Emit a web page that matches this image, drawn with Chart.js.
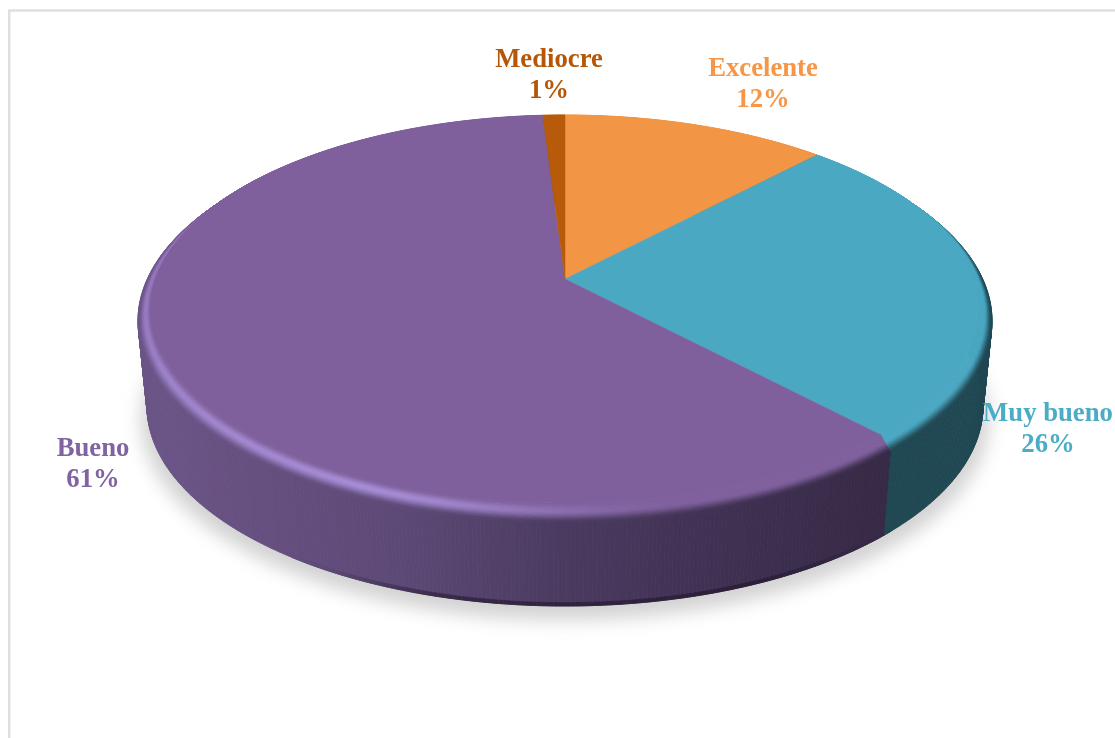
<!DOCTYPE html>
<html lang="es">
<head>
<meta charset="utf-8">
<title>Valoración</title>
<script src="https://cdn.jsdelivr.net/npm/chart.js@4"></script>
<style>
  html, body { margin: 0; padding: 0; background: #fff; overflow: hidden; }
  canvas { display: block; }
</style>
</head>
<body>
<canvas id="pie" width="1115" height="738"></canvas>
<script>
// Survey ratings, clockwise from twelve o'clock
const categories = ['Excelente', 'Muy bueno', 'Bueno', 'Mediocre'];
const shares = [12, 26, 61, 1];

// Face colour of each slice, also used for its label
const faceColors = ['#f29545', '#4aa8c3', '#7f609d', '#b75b0a'];
const labelColors = ['#f79646', '#4bacc6', '#8064a2', '#b65708'];
const highlightColors = ['#ffb877', '#4aa8c3', '#a68cd6', '#b75b0a'];
// Side wall shade of each slice: colour stops along x, left to right
const wallStops = [
  [[0, '#8a4f1f'], [1, '#8a4f1f']],
  [[0, '#1f4853'], [1, '#1f4853']],
  [[0, '#6b5487'], [0.3, '#5d4976'], [0.5, '#4a3a60'], [0.75, '#3c2e4e'], [1, '#33263f']],
  [[0, '#6e3606'], [1, '#6e3606']]
];

// Geometry of the extruded disc: flat top, outer rim of the bevel, bottom edge
const FLAT = { cx: 565, cy: 309, rx: 414, ry: 194 };
const RIM  = { cx: 565, cy: 321, rx: 427, ry: 202 };
const BASE = { cx: 565, cy: 406, rx: 418, ry: 200 };
const PERSPECTIVE = 0.154;
const STEP = Math.PI / 360;
const DEG = 180 / Math.PI;

// Label centre (x) and first baseline (y) for each slice
const labelAnchors = [[763, 76], [1048, 421], [93, 456], [549, 67]];
const LABEL_LINE = 31;

function hex(c) {
  return [1, 3, 5].map(i => parseInt(c.slice(i, i + 2), 16));
}
function mix(a, b, t) {
  return a.map((v, i) => v + (b[i] - v) * t);
}
function css(c) {
  return `rgb(${c.map(v => Math.round(v)).join(',')})`;
}
function smooth(t) {
  t = Math.max(0, Math.min(1, t));
  return t * t * (3 - 2 * t);
}

// Perspective view of a circle: theta measured clockwise from the top, result on a unit ellipse
function unit(theta) {
  const p = PERSPECTIVE;
  const u = Math.sin(theta), v = -Math.cos(theta);
  const w = 1 - p * v;
  return [Math.sqrt(1 - p * p) * u / w, (1 - p * p) * v / w - p];
}
function onRing(ring, theta) {
  const e = unit(theta);
  return [ring.cx + ring.rx * e[0], ring.cy + ring.ry * e[1]];
}
function between(a, b, t) {
  return [a[0] + (b[0] - a[0]) * t, a[1] + (b[1] - a[1]) * t];
}
function wallColor(i, x) {
  const stops = wallStops[i];
  const f = (x - BASE.cx + BASE.rx) / (2 * BASE.rx);
  for (let s = 1; s < stops.length; s++) {
    if (f <= stops[s][0]) {
      const t = (f - stops[s - 1][0]) / (stops[s][0] - stops[s - 1][0]);
      return mix(hex(stops[s - 1][1]), hex(stops[s][1]), Math.max(0, t));
    }
  }
  return hex(stops[stops.length - 1][1]);
}
// Strength of the light caught by the bevel, strongest at the lower left
function glint(theta) {
  const d = theta * DEG;
  if (d < 205) return smooth((d - 165) / 40);
  if (d < 270) return 1 - 0.4 * (d - 205) / 65;
  return 0.6 * (1 - smooth((d - 270) / 50));
}
// How much of the dark wall shows at the rim; none on the far half of the disc
function rimShade(theta) {
  const d = theta * DEG;
  if (d < 180) return smooth((d - 55) / 35);
  return 1 - smooth((d - 265) / 30);
}
// Darker line where the wall meets the ground, only around the lowest point
function footShade(theta) {
  const d = theta * DEG;
  return 0.6 * smooth((d - 135) / 25) * (1 - smooth((d - 190) / 25));
}
function quad(ctx, a, b, c, d, color) {
  ctx.fillStyle = ctx.strokeStyle = color;
  ctx.beginPath();
  ctx.moveTo(a[0], a[1]);
  ctx.lineTo(b[0], b[1]);
  ctx.lineTo(c[0], c[1]);
  ctx.lineTo(d[0], d[1]);
  ctx.closePath();
  ctx.fill();
  ctx.stroke();
}

const discPlugin = {
  id: 'disc',
  beforeDraw(chart) {
    // Thin frame along the top and left of the chart area
    const ctx = chart.ctx;
    ctx.save();
    ctx.strokeStyle = '#dfdfdf';
    ctx.lineWidth = 2.5;
    ctx.beginPath();
    ctx.moveTo(9.2, chart.height);
    ctx.lineTo(9.2, 10.5);
    ctx.lineTo(chart.width, 10.5);
    ctx.stroke();
    ctx.restore();
  },
  beforeDatasetDraw(chart) {
    const ctx = chart.ctx;
    const arcs = chart.getDatasetMeta(0).data;
    ctx.save();

    // Soft drop shadow under the disc
    ctx.save();
    ctx.filter = 'blur(9px)';
    ctx.fillStyle = '#d2d2d2';
    ctx.beginPath();
    ctx.ellipse(BASE.cx, BASE.cy + 13, BASE.rx + 6, BASE.ry + 1, 0, 0, Math.PI * 2);
    ctx.fill();
    ctx.restore();

    ctx.lineWidth = 0.8;
    const spans = arcs.map(a => [a.startAngle + Math.PI / 2, a.endAngle + Math.PI / 2]);

    // Side wall
    spans.forEach(([from, to], i) => {
      for (let a = from; a < to; a += STEP) {
        const b = Math.min(a + STEP, to);
        const r0 = onRing(RIM, a), r1 = onRing(RIM, b);
        const b0 = onRing(BASE, a), b1 = onRing(BASE, b);
        const body = wallColor(i, r0[0]);
        quad(ctx, r0, r1, b1, b0, css(body));
        const foot = footShade(a);
        if (foot > 0) {
          const l0 = between(r0, b0, 0.96), l1 = between(r1, b1, 0.96);
          quad(ctx, l0, l1, b1, b0, css(mix(body, [30, 20, 40], foot)));
        }
      }
    });

    // Bevel between the rim and the flat top
    const BANDS = 12;
    const CREST = 0.42;
    spans.forEach(([from, to], i) => {
      const face = hex(faceColors[i]);
      const shine = hex(highlightColors[i]);
      for (let a = from; a < to; a += STEP) {
        const b = Math.min(a + STEP, to);
        const f0 = onRing(FLAT, a), f1 = onRing(FLAT, b);
        const r0 = onRing(RIM, a), r1 = onRing(RIM, b);
        const wall = mix(face, wallColor(i, r0[0]), rimShade(a));
        const peak = mix(face, shine, glint(a));
        for (let k = 0; k < BANDS; k++) {
          const t = (k + 0.5) / BANDS;
          const color = t < CREST
            ? mix(face, peak, smooth(t / CREST))
            : mix(peak, wall, smooth((t - CREST) / (1 - CREST)));
          quad(ctx,
            between(f0, r0, k / BANDS), between(f1, r1, k / BANDS),
            between(f1, r1, (k + 1) / BANDS), between(f0, r0, (k + 1) / BANDS),
            css(color));
        }
      }
    });

    // Flat top, one wedge per slice, meeting at the projected centre
    const apex = [FLAT.cx, FLAT.cy - PERSPECTIVE * FLAT.ry];
    spans.forEach(([from, to], i) => {
      ctx.fillStyle = ctx.strokeStyle = faceColors[i];
      ctx.beginPath();
      ctx.moveTo(apex[0], apex[1]);
      for (let a = from; a < to; a += STEP) {
        const p = onRing(FLAT, a);
        ctx.lineTo(p[0], p[1]);
      }
      const end = onRing(FLAT, to);
      ctx.lineTo(end[0], end[1]);
      ctx.closePath();
      ctx.fill();
      ctx.lineWidth = 0.5;
      ctx.stroke();
    });

    ctx.restore();
    return false;
  },
  afterDatasetsDraw(chart) {
    const ctx = chart.ctx;
    ctx.save();
    ctx.font = "bold 26.7px 'Liberation Serif'";
    ctx.textAlign = 'center';
    ctx.textBaseline = 'alphabetic';
    chart.data.labels.forEach((name, i) => {
      const [x, y] = labelAnchors[i];
      ctx.fillStyle = labelColors[i];
      ctx.fillText(name, x, y);
      ctx.fillText(chart.data.datasets[0].data[i] + '%', x, y + LABEL_LINE);
    });
    ctx.restore();
  }
};

new Chart(document.getElementById('pie'), {
  type: 'pie',
  data: {
    labels: categories,
    datasets: [{ data: shares, backgroundColor: faceColors, borderWidth: 0 }]
  },
  options: {
    responsive: false,
    animation: false,
    plugins: { legend: { display: false } }
  },
  plugins: [discPlugin]
});
</script>
</body>
</html>
